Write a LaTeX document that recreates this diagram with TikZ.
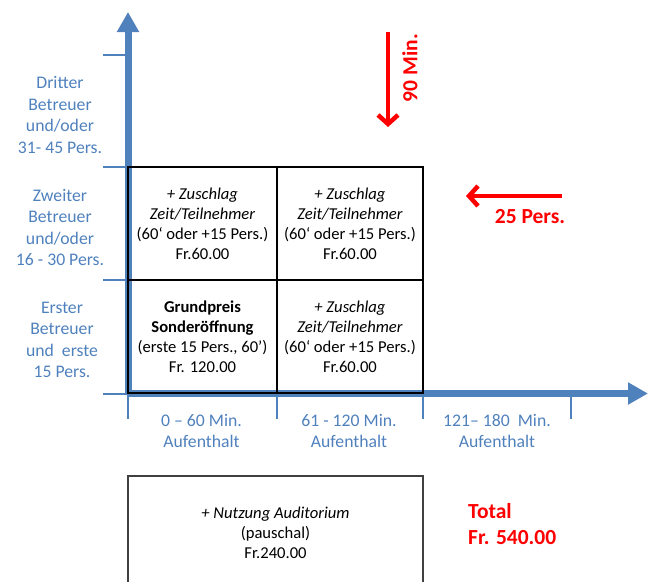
\documentclass[tikz,border=0pt]{standalone}
\usepackage{fontspec}
\setmainfont{Carlito}
\usetikzlibrary{arrows.meta}
\definecolor{axisblue}{RGB}{79,129,189}
\definecolor{pured}{RGB}{255,0,0}
\begin{document}
\begin{tikzpicture}[x=1pt,y=-1pt,
  axislabel/.style={text=axisblue, font=\fontsize{17.7}{21.5}\selectfont, align=center, inner sep=0pt},
  cell/.style={draw=black, line width=1.2pt, minimum height=113pt, inner sep=0pt, align=center, font=\fontsize{16.6}{20}\selectfont},
  axisline/.style={draw=axisblue, line width=7pt, -{Triangle[length=20pt,width=21pt]}},
  tick/.style={draw=axisblue, line width=2pt},
  redarrow/.style={draw=pured, line width=4.5pt, -{Straight Barb[length=9pt,width=20pt]}},
  redtext/.style={text=pured, font=\fontsize{21.5}{26}\selectfont\bfseries, align=left, inner sep=0pt},
  boxtext/.style={align=center, inner sep=0pt, font=\fontsize{16.6}{20}\selectfont}
]
\useasboundingbox (0,0) rectangle (653,581);

% axes coordinates
\coordinate (O) at (128,393.5);
\coordinate (ytip) at (128,12);
\coordinate (xtip) at (648,393.5);

% ticks
\foreach \yy/\nm in {55/t1,167/t2,280/t3,393.5/t4}{
  \coordinate (\nm a) at (103,\yy);
  \coordinate (\nm b) at (128,\yy);
  \draw[tick] (\nm a) -- (\nm b);
}
\foreach \xx/\nm in {128/u1,277/u2,423/u3,571/u4}{
  \coordinate (\nm a) at (\xx,393.5);
  \coordinate (\nm b) at (\xx,419);
  \draw[tick] (\nm a) -- (\nm b);
}

% axes
\draw[axisline] (O) -- (ytip);
\draw[axisline] (O) -- (xtip);

% grid cells
\node[cell, minimum width=149pt] (c11) at (202.5,223.5)
  {\textit{+ Zuschlag}\\\textit{Zeit/Teilnehmer}\\(60‘ oder +15 Pers.)\\Fr.60.00};
\node[cell, minimum width=146pt] (c12) at (350,223.5)
  {\textit{+ Zuschlag}\\\textit{Zeit/Teilnehmer}\\(60‘ oder +15 Pers.)\\Fr.60.00};
\node[cell, minimum width=149pt] (c21) at (202.5,336.5)
  {\textbf{Grundpreis}\\\textbf{Sonderöffnung}\\(erste 15 Pers., 60’)\\Fr. 120.00};
\node[cell, minimum width=146pt] (c22) at (350,336.5)
  {\textit{+ Zuschlag}\\\textit{Zeit/Teilnehmer}\\(60‘ oder +15 Pers.)\\Fr.60.00};

% y-axis labels
\node[axislabel] (l3) at (60,115) {Dritter\\Betreuer\\und/oder\\31- 45 Pers.};
\node[axislabel] (l2) at (60,227.5) {Zweiter\\Betreuer\\und/oder\\16 - 30 Pers.};
\node[axislabel] (l1) at (62,340) {Erster\\Betreuer\\und\ \ erste\\15 Pers.};

% x-axis labels
\node[axislabel] (m1) at (201.5,431) {0 – 60 Min.\\Aufenthalt};
\node[axislabel] (m2) at (349,431) {61 - 120 Min.\\Aufenthalt};
\node[axislabel] (m3) at (497,431) {121– 180\ \ Min.\\Aufenthalt};

% bottom box
\coordinate (b1) at (128,582);
\coordinate (b2) at (128,476);
\coordinate (b3) at (423,476);
\coordinate (b4) at (423,582);
\draw[draw=black!75, line width=1.2pt] (b1) -- (b2) -- (b3) -- (b4);
\node[boxtext] (aud) at (275.5,533) {\textit{+ Nutzung Auditorium}\\(pauschal)\\Fr.240.00};

% total
\node[redtext, anchor=west] (tot) at (468,524) {Total\\Fr. 540.00};

% red arrows
\coordinate (d1) at (388,32);
\coordinate (d2) at (388,127);
\draw[redarrow] (d1) -- (d2);
\node[redtext, rotate=90] (m90) at (410,68) {90 Min.};
\coordinate (p1) at (562,196);
\coordinate (p2) at (466,196);
\draw[redarrow] (p1) -- (p2);
\node[redtext] (p25) at (530,217) {25 Pers.};
\end{tikzpicture}
\end{document}
